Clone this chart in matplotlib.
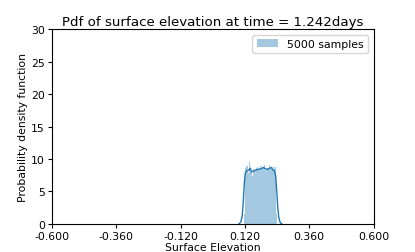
import matplotlib
matplotlib.use("Agg")
import matplotlib.pyplot as plt
import numpy as np

# histogram bins (left edges) and density heights
bin_left = [0.115, 0.120, 0.125, 0.130, 0.135, 0.140, 0.145, 0.150, 0.155, 0.160,
            0.165, 0.170, 0.175, 0.180, 0.185, 0.190, 0.195, 0.200, 0.205, 0.210,
            0.215, 0.220, 0.225, 0.230, 0.235]
bin_height = [1.5, 8.6, 8.9, 7.9, 9.6, 8.2, 7.4, 8.4, 8.1, 8.6,
              8.7, 8.3, 8.9, 8.5, 8.8, 9.0, 8.2, 8.4, 8.6, 9.0,
              8.5, 8.7, 8.3, 8.8, 1.6]
bin_width = 0.005

# kde curve points
kde_x = [0.098, 0.105, 0.110, 0.114, 0.118, 0.122, 0.128, 0.135, 0.140, 0.145,
         0.150, 0.160, 0.170, 0.180, 0.190, 0.200, 0.210, 0.218, 0.225, 0.230,
         0.235, 0.239, 0.243, 0.247, 0.252, 0.258]
kde_y = [0.0, 0.3, 1.2, 3.3, 6.3, 7.9, 8.2, 8.3, 8.6, 8.0,
         8.1, 8.3, 8.4, 8.5, 8.7, 8.4, 8.5, 8.7, 8.3, 8.2,
         7.4, 5.0, 2.4, 0.9, 0.2, 0.0]

n_samples = 5000
blue = "#1f77b4"

fig = plt.figure(figsize=(4.15, 2.53), dpi=100)
ax = fig.add_axes([0.125, 0.111, 0.775, 0.77])

ax.bar(bin_left, bin_height, width=bin_width, align="edge", color=blue, alpha=0.4,
       linewidth=0, label=f"{n_samples} samples")
ax.plot(kde_x, kde_y, color=blue, linewidth=1.0)

ax.set_xlim(-0.6, 0.6)
ax.set_ylim(0, 30)
ax.set_xticks(np.linspace(-0.6, 0.6, 6))
ax.set_xticklabels([f"{v:.3f}" for v in np.linspace(-0.6, 0.6, 6)])
ax.set_yticks([0, 5, 10, 15, 20, 25, 30])
ax.tick_params(labelsize=7.8, length=3, pad=2)
ax.set_xlabel("Surface Elevation", fontsize=7.8, labelpad=1)
ax.set_ylabel("Probability density function", fontsize=7.8, labelpad=2)
ax.set_title("Pdf of surface elevation at time = 1.242days", fontsize=9.6, pad=3)
ax.legend(loc="upper right", fontsize=7.8)

fig.savefig("out.png", dpi=100)
